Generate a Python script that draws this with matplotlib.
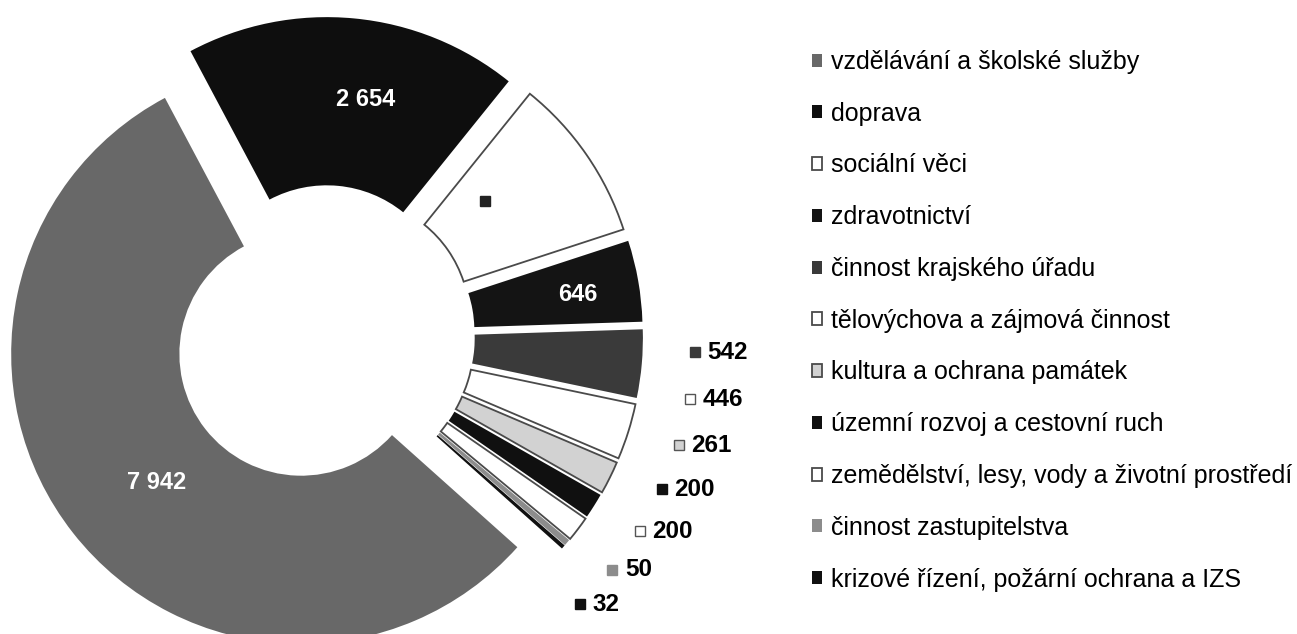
import numpy as np
import matplotlib.pyplot as plt
from matplotlib.transforms import offset_copy

plt.rcParams['font.family'] = ['Liberation Sans', 'DejaVu Sans']

# data
categories = [
    'vzdělávání a školské služby',
    'doprava',
    'sociální věci',
    'zdravotnictví',
    'činnost krajského úřadu',
    'tělovýchova a zájmová činnost',
    'kultura a ochrana památek',
    'územní rozvoj a cestovní ruch',
    'zemědělství, lesy, vody a životní prostředí',
    'činnost zastupitelstva',
    'krizové řízení, požární ochrana a IZS',
]
values = [7942, 2654, 1310, 646, 542, 446, 261, 200, 200, 50, 32]
colors = ['#686868', '#0e0e0e', '#ffffff', '#141414', '#3a3a3a', '#ffffff',
          '#d2d2d2', '#101010', '#ffffff', '#8c8c8c', '#101010']
# how the value label is shown: inside, hidden (white on white), outside
label_mode = ['in', 'in', 'hidden', 'in', 'out', 'out', 'out', 'out', 'out', 'out', 'out']


def fmt(v):
    return f'{v:,}'.replace(',', ' ')


def is_light(c):
    return int(c[1:3], 16) > 0xb0


fig = plt.figure(figsize=(12.97, 6.34), dpi=100)
# axes in pixels: 290 px per data unit, donut centre at (324, 336) from top
ax = fig.add_axes([0, 0, 800 / 1297, 1])

wedges, _ = ax.pie(values, colors=colors, startangle=-41.8, counterclock=False,
                   explode=[0.1] * len(values), radius=1,
                   wedgeprops=dict(width=0.58, linewidth=0))
for w, c in zip(wedges, colors):
    if is_light(c):
        w.set_edgecolor('#4a4a4a')
        w.set_linewidth(1.3)

ax.set_xlim(-324 / 290, (800 - 324) / 290)
ax.set_ylim(-298 / 290, (634 - 298) / 290)
ax.set_aspect('auto')
ax.axis('off')


def marker_label(x, y, c, text, tcolor):
    ax.plot(x, y, marker='s', ms=7, color=c,
            mec='#555555' if is_light(c) else c, mew=1.0)
    ax.annotate(text, (x, y), xytext=(9, 0), textcoords='offset points',
                ha='left', va='center', fontsize=17.5, fontweight='bold', color=tcolor)


out_angle = None
for w, v, c, mode in zip(wedges, values, colors, label_mode):
    mid = np.radians((w.theta1 + w.theta2) / 2)
    cx, cy = w.center
    if mode == 'in':
        ax.annotate(fmt(v), (cx + 0.72 * np.cos(mid), cy + 0.72 * np.sin(mid)),
                    xytext=(14, 0), textcoords='offset points',
                    ha='center', va='center', fontsize=17, fontweight='bold', color='white')
    elif mode == 'hidden':
        # label group centred in the wedge, value in white on the white slice
        x, y = cx + 0.72 * np.cos(mid), cy + 0.72 * np.sin(mid)
        ax.text(x, y, fmt(v), ha='center', va='center', fontsize=17,
                fontweight='bold', color='white', zorder=4)
        ax.plot(x, y, marker='s', ms=7, color='#222222', zorder=5,
                transform=offset_copy(ax.transData, fig, x=-25, y=0, units='points'))
    else:
        # outside labels: spread evenly downward from the first one
        if out_angle is None:
            out_angle = np.degrees(mid) + 2.5
        else:
            out_angle -= 7.3
        a = np.radians(out_angle)
        marker_label(1.28 * np.cos(a), 1.28 * np.sin(a), c, fmt(v), 'black')

fig.legend(wedges, categories, loc='upper left',
           bbox_to_anchor=(812 / 1297, 1 - 50 / 634), frameon=False,
           fontsize=18, handlelength=0.42, handleheight=0.42,
           handletextpad=0.33, labelspacing=1.11, borderpad=0, borderaxespad=0)

fig.savefig('out.png', dpi=100)
